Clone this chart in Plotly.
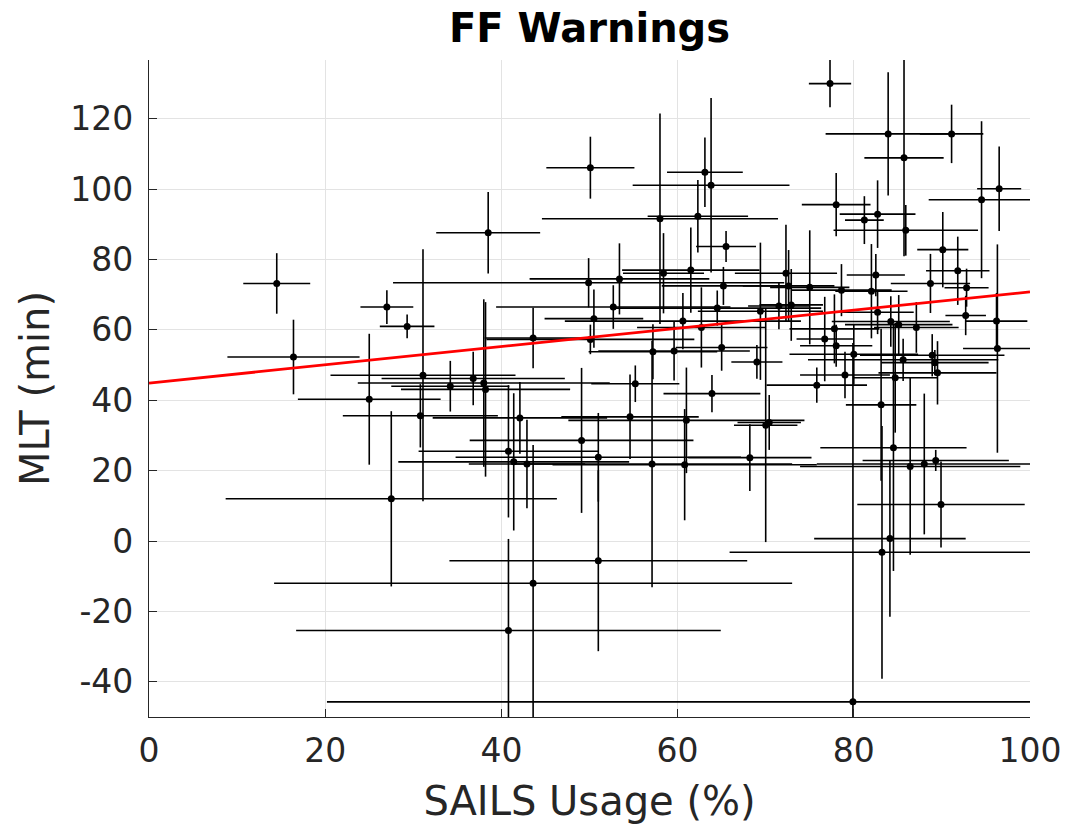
import plotly.graph_objects as go

# SAILS usage (%) and mean lead time (min) per warning, with their spreads
sails_usage = [
    14.5, 16.4, 27.0, 29.3, 25.0, 27.5, 31.1, 30.8, 34.2, 36.8,
    38.0, 38.2, 38.5, 40.8, 40.8, 41.4, 42.1, 42.9, 43.6, 43.6,
    49.1, 51.0, 51.0, 49.9, 50.1, 50.5, 50.1, 52.7, 53.4, 54.6,
    55.2, 57.1, 57.2, 58.0, 58.4, 59.6, 60.6, 60.8, 61.0, 61.5,
    62.3, 62.7, 63.1, 63.8, 63.9, 64.5, 65.0, 65.2, 65.5, 68.2,
    69.0, 69.4, 70.0, 70.4, 71.5, 72.3, 72.6, 72.9, 75.0, 75.8,
    76.7, 77.3, 77.8, 78.0, 78.0, 78.6, 79.0, 79.9, 80.0, 81.2,
    82.0, 82.5, 82.7, 82.7, 83.1, 83.2, 83.9, 84.1, 84.2, 84.5,
    84.7, 85.1, 85.6, 85.7, 85.9, 86.4, 87.1, 88.0, 88.7, 88.9,
    89.2, 89.3, 89.5, 89.9, 90.1, 91.1, 91.8, 92.7, 92.8, 94.5,
    96.2, 96.3, 96.5,
]
mlt = [
    73.2, 52.3, 66.5, 61.0, 40.3, 12.0, 47.1, 35.6, 44.0, 46.2,
    44.9, 43.1, 87.6, 25.5, -25.4, 22.5, 35.0, 21.9, 57.7, -12.0,
    28.6, 23.8, -5.6, 73.4, 106.1, 63.2, 57.3, 66.5, 74.5, 35.3,
    44.7, 21.9, 53.8, 91.6, 76.1, 54.0, 62.5, 21.7, 34.3, 77.0,
    92.3, 60.7, 104.8, 101.1, 41.9, 66.2, 55.0, 72.5, 83.7, 23.7,
    50.9, 65.3, 32.9, 33.7, 66.8, 76.1, 72.5, 67.1, 72.1, 44.3,
    57.4, 130.0, 60.3, 95.6, 55.5, 71.3, 47.2, -45.7, 53.1, 91.2,
    71.0, 75.6, 92.9, 65.0, 38.7, -3.2, 115.7, 0.7, 62.4, 26.5,
    46.4, 61.5, 51.5, 108.9, 88.3, 21.2, 60.7, 21.9, 73.2, 52.8,
    50.7, 22.9, 47.8, 10.4, 82.8, 115.7, 76.8, 64.1, 72.0, 97.0,
    62.5, 54.7, 100.1,
]
usage_err = [
    3.8, 7.5, 3.0, 3.1, 8.1, 18.8, 10.5, 8.8, 6.7, 10.4,
    14.3, 9.6, 5.9, 10.2, 24.1, 13.1, 9.9, 6.6, 5.5, 29.4,
    12.7, 16.2, 16.9, 22.2, 5.0, 5.6, 11.8, 13.3, 10.2, 7.8,
    5.0, 15.9, 7.3, 13.4, 4.6, 8.6, 13.4, 15.0, 13.4, 7.8,
    5.7, 7.3, 4.3, 8.9, 5.5, 11.8, 5.2, 7.0, 3.4, 7.0,
    2.9, 7.1, 3.6, 3.6, 3.5, 5.8, 5.2, 3.6, 4.5, 5.7,
    3.2, 2.4, 5.1, 3.9, 4.1, 5.7, 5.1, 59.7, 7.3, 2.2,
    4.1, 3.3, 4.3, 4.1, 4.0, 17.3, 7.1, 8.6, 6.7, 8.3,
    4.8, 6.1, 10.8, 4.5, 8.2, 12.5, 4.8, 12.2, 4.5, 8.2,
    6.1, 8.3, 6.7, 9.5, 2.9, 3.6, 3.6, 2.3, 2.5, 6.0,
    3.5, 3.9, 2.5,
]
mlt_err = [
    8.6, 10.6, 4.8, 3.4, 18.6, 24.9, 35.8, 9.0, 7.2, 7.6,
    23.8, 24.8, 11.6, 18.8, 26.0, 19.5, 10.2, 12.6, 8.6, 39.3,
    20.6, 12.6, 25.7, 7.0, 8.8, 8.3, 4.2, 6.2, 10.1, 12.0,
    5.2, 35.0, 7.8, 29.9, 11.4, 8.4, 8.0, 15.8, 15.0, 12.1,
    10.3, 11.4, 9.9, 24.8, 5.3, 5.0, 6.6, 5.4, 4.4, 9.5,
    4.8, 19.5, 33.2, 7.8, 6.6, 13.8, 10.2, 10.2, 16.2, 5.0,
    12.0, 6.7, 9.8, 9.0, 6.0, 7.4, 6.6, 102.0, 8.6, 6.8,
    13.4, 6.0, 9.6, 6.2, 21.6, 35.9, 17.5, 22.2, 7.2, 35.0,
    15.6, 8.4, 6.0, 28.0, 7.2, 25.1, 7.2, 20.0, 8.4, 6.0,
    3.6, 3.0, 9.0, 12.2, 10.7, 8.3, 9.7, 5.6, 5.4, 22.3,
    8.0, 29.6, 12.0,
]

# least-squares trend line
fit_intercept = 44.9
fit_slope = 0.259
fit_x = [0, 100]

x_ticks = [0, 20, 40, 60, 80, 100]
x_tick_labels = ["0", "20", "40", "60", "80", "100"]
y_ticks = [-40, -20, 0, 20, 40, 60, 80, 100, 120]
y_tick_labels = ["-40", "-20", "0", "20", "40", "60", "80", "100", "120"]

text_color = "#262626"
font_family = "DejaVu Sans"

fig = go.Figure()

fig.add_trace(go.Scatter(
    x=sails_usage,
    y=mlt,
    mode="markers",
    marker=dict(color="black", size=7),
    error_x=dict(type="data", array=usage_err, visible=True,
                 color="black", thickness=1.6, width=0),
    error_y=dict(type="data", array=mlt_err, visible=True,
                 color="black", thickness=1.6, width=0),
    showlegend=False,
    cliponaxis=True,
))

fig.add_trace(go.Scatter(
    x=fit_x,
    y=[fit_intercept + fit_slope * v for v in fit_x],
    mode="lines",
    line=dict(color="#ff0000", width=2.8),
    showlegend=False,
))

axis_common = dict(
    showline=True,
    linecolor=text_color,
    linewidth=1.2,
    mirror=False,
    ticks="inside",
    ticklen=8,
    tickwidth=1.2,
    tickcolor=text_color,
    showgrid=True,
    gridcolor="#e3e3e3",
    gridwidth=1,
    zeroline=False,
    automargin=False,
    tickfont=dict(family=font_family, size=33, color=text_color),
)

fig.update_xaxes(
    range=[0, 100],
    tickvals=x_ticks,
    ticktext=x_tick_labels,
    title=dict(text="SAILS Usage (%)",
               font=dict(family=font_family, size=40, color=text_color),
               standoff=18),
    ticklabelstandoff=4,
    **axis_common,
)
fig.update_yaxes(
    range=[-50, 136.7],
    tickvals=y_ticks,
    ticktext=y_tick_labels,
    title=dict(text="MLT (min)",
               font=dict(family=font_family, size=40, color=text_color),
               standoff=8),
    ticklabelstandoff=8,
    **axis_common,
)

fig.update_layout(
    width=1068,
    height=827,
    margin=dict(l=149, r=38, t=60, b=110),
    paper_bgcolor="white",
    plot_bgcolor="white",
    title=dict(
        text="<b>FF Warnings</b>",
        x=(149 + 1030) / 2 / 1068,
        xanchor="center",
        y=1 - 28 / 827,
        yanchor="middle",
        font=dict(family=font_family, size=40, color="black"),
    ),
)

fig.write_html("out.html")
